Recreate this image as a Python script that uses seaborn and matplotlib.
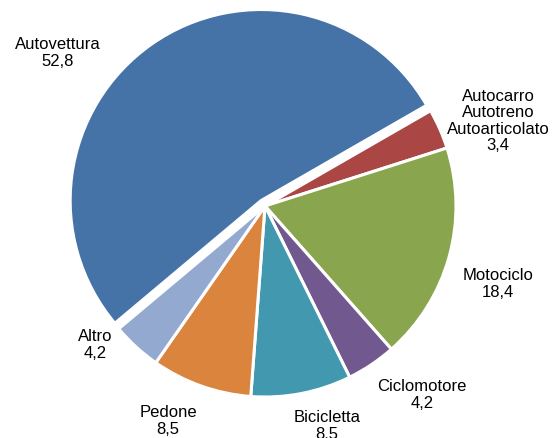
import seaborn as sns
import matplotlib.pyplot as plt

categorie = ['Autovettura', 'Autocarro\nAutotreno\nAutoarticolato', 'Motociclo',
             'Ciclomotore', 'Bicicletta', 'Pedone', 'Altro']
valori = [52.8, 3.4, 18.4, 4.2, 8.5, 8.5, 4.2]
colori = ['#4572A7', '#AA4643', '#89A54E', '#71588F', '#4198AF', '#DB843D', '#93A9CF']

# posizione delle etichette (in unità di raggio, centro torta = 0,0)
pos_etichette = [(-1.084, 0.806), (1.220, 0.450), (1.220, -0.403), (0.822, -0.984),
                 (0.325, -1.147), (-0.508, -1.120), (-0.890, -0.723)]

sns.set_style('white')
plt.rcParams['font.family'] = ['Liberation Sans', 'DejaVu Sans']

fig = plt.figure(figsize=(5.54, 4.39), dpi=100)
ax = fig.add_axes([0, 0, 1, 1])

palette = sns.color_palette(colori)
esplodi = [0.035] + [0] * (len(valori) - 1)
wedges, _ = ax.pie(valori, colors=palette, startangle=220, counterclock=False,
                   explode=esplodi,
                   wedgeprops=dict(edgecolor='white', linewidth=2.2))

for nome, v, (x, y) in zip(categorie, valori, pos_etichette):
    testo = f'{nome}\n{v:.1f}'.replace('.', ',')
    ax.text(x, y, testo, ha='center', va='center', fontsize=12,
            linespacing=1.1, color='black')

# centro (265, 207) px, raggio 191 px
cx, cy, r = 265, 207, 191
ax.set_xlim(-cx / r, (554 - cx) / r)
ax.set_ylim(-(439 - cy) / r, cy / r)
ax.set_aspect('auto')
ax.axis('off')

fig.savefig('out.png', dpi=100)
